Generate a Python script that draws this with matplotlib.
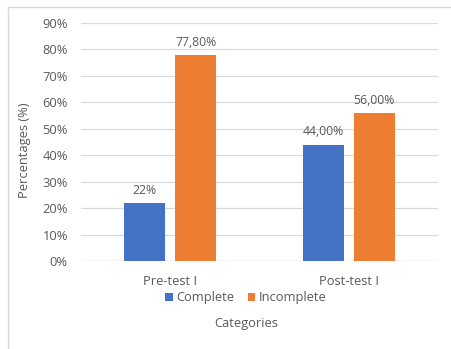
import matplotlib
matplotlib.use("Agg")
import matplotlib.pyplot as plt
import numpy as np
from matplotlib.lines import Line2D

categories = ["Pre-test I", "Post-test I"]
series_names = ["Complete", "Incomplete"]
complete = [22.0, 44.0]
incomplete = [77.8, 56.0]
complete_labels = ["22%", "44,00%"]
incomplete_labels = ["77,80%", "56,00%"]
yticks = [0, 10, 20, 30, 40, 50, 60, 70, 80, 90]
ytick_labels = [f"{v}%" for v in yticks]

blue = "#4472C4"
orange = "#ED7D31"
text_col = "#595959"
grid_col = "#D9D9D9"

plt.rcParams['font.family'] = ['Open Sans', 'DejaVu Sans']

fig = plt.figure(figsize=(4.51, 3.49), dpi=100)
ax = fig.add_axes([81/451, 1-261/349, (438-81)/451, (261-23)/349])

x = np.arange(len(categories))
w = 0.23
gap = 0.056
off = (w + gap) / 2
b1 = ax.bar(x - off, complete, w, color=blue, label=series_names[0], zorder=3)
b2 = ax.bar(x + off, incomplete, w, color=orange, label=series_names[1], zorder=3)

for rect, lab in zip(b1, complete_labels):
    ax.annotate(lab, (rect.get_x() + rect.get_width()/2, rect.get_height()),
                xytext=(0, 4.5), textcoords="offset points", ha="center", va="bottom",
                fontsize=8.8, color=text_col)
for rect, lab in zip(b2, incomplete_labels):
    ax.annotate(lab, (rect.get_x() + rect.get_width()/2, rect.get_height()),
                xytext=(0, 4.5), textcoords="offset points", ha="center", va="bottom",
                fontsize=8.8, color=text_col)

ax.set_xlim(-0.5, len(categories) - 0.5)
ax.set_ylim(0, 90)
ax.set_yticks(yticks)
ax.set_yticklabels(ytick_labels)
ax.set_xticks(x)
ax.set_xticklabels(categories)
ax.tick_params(axis="both", length=0, labelsize=9.3, colors=text_col)
ax.tick_params(axis="y", pad=9.5)
ax.tick_params(axis="x", pad=10)
ax.yaxis.grid(True, color=grid_col, linewidth=0.9, zorder=0)
for s in ax.spines.values():
    s.set_visible(False)
ax.axhline(0, color=grid_col, linewidth=0.9, zorder=1)

fig.text(25/451, 1 - 150/349, "Percentages (%)", rotation=90, ha="center", va="center",
         fontsize=9.3, color=text_col)

leg = fig.legend(handles=[b1, b2], labels=series_names, loc="center",
                 bbox_to_anchor=(246/451, 1 - 298/349), ncol=2,
                 frameon=False, fontsize=9.3, handlelength=0.6, handleheight=0.6,
                 handletextpad=0.3, columnspacing=1.0, labelcolor=text_col)

fig.text(246/451, 1 - 324/349, "Categories", ha="center", va="center",
         fontsize=9.3, color=text_col)

# outer chart frame (left and top edges visible)
fig.add_artist(Line2D([8/451, 8/451], [0, 1 - 7/349], transform=fig.transFigure,
                      color="#D9D9D9", linewidth=1))
fig.add_artist(Line2D([8/451, 1], [1 - 7/349, 1 - 7/349], transform=fig.transFigure,
                      color="#D9D9D9", linewidth=1))

fig.savefig("out.png", dpi=100, facecolor="white")
